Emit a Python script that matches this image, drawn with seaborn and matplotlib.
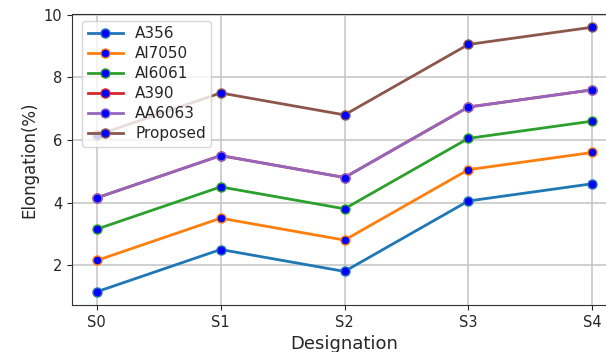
import matplotlib
matplotlib.use("Agg")
import matplotlib.pyplot as plt
import seaborn as sns
import pandas as pd

categories = ["S0", "S1", "S2", "S3", "S4"]
series_names = ["A356", "Al7050", "Al6061", "A390", "AA6063", "Proposed"]
a356 = [1.15, 2.5, 1.8, 4.05, 4.6]
al7050 = [2.15, 3.5, 2.8, 5.05, 5.6]
al6061 = [3.15, 4.5, 3.8, 6.05, 6.6]
a390 = [4.15, 5.5, 4.8, 7.05, 7.6]
aa6063 = [4.15, 5.5, 4.8, 7.05, 7.6]
proposed = [6.15, 7.5, 6.8, 9.05, 9.6]
all_values = [a356, al7050, al6061, a390, aa6063, proposed]
colors = ["#1f77b4", "#ff7f0e", "#2ca02c", "#d62728", "#9467bd", "#8c564b"]

plt.rcParams.update({
    "text.color": "#262626",
    "axes.labelcolor": "#262626",
    "xtick.color": "#262626",
    "ytick.color": "#262626",
    "axes.edgecolor": "#333333",
})

fig = plt.figure(figsize=(6.06, 3.52), dpi=100)
ax = fig.add_axes([72 / 606, 47 / 352, 545 / 606, 291 / 352])

for name, vals, c in zip(series_names, all_values, colors):
    df = pd.DataFrame({"Designation": categories, "Elongation": vals})
    sns.lineplot(data=df, x="Designation", y="Elongation", ax=ax, label=name,
                 color=c, linewidth=2, marker="o", markersize=6.5,
                 markerfacecolor="blue", markeredgecolor=c, markeredgewidth=1)

ax.grid(True, color="#c4c4c4", linewidth=1.1)
ax.set_axisbelow(True)
ax.set_xlabel("Designation", fontsize=13)
ax.set_ylabel("Elongation(%)", fontsize=12)
ax.tick_params(labelsize=10.5)
ax.set_yticks([2, 4, 6, 8, 10])
ax.legend(loc="upper left", fontsize=11, framealpha=0.8, labelspacing=0.33,
          handlelength=2.3, borderpad=0.35, bbox_to_anchor=(0.005, 1.003))

fig.savefig("out.png", dpi=100)
